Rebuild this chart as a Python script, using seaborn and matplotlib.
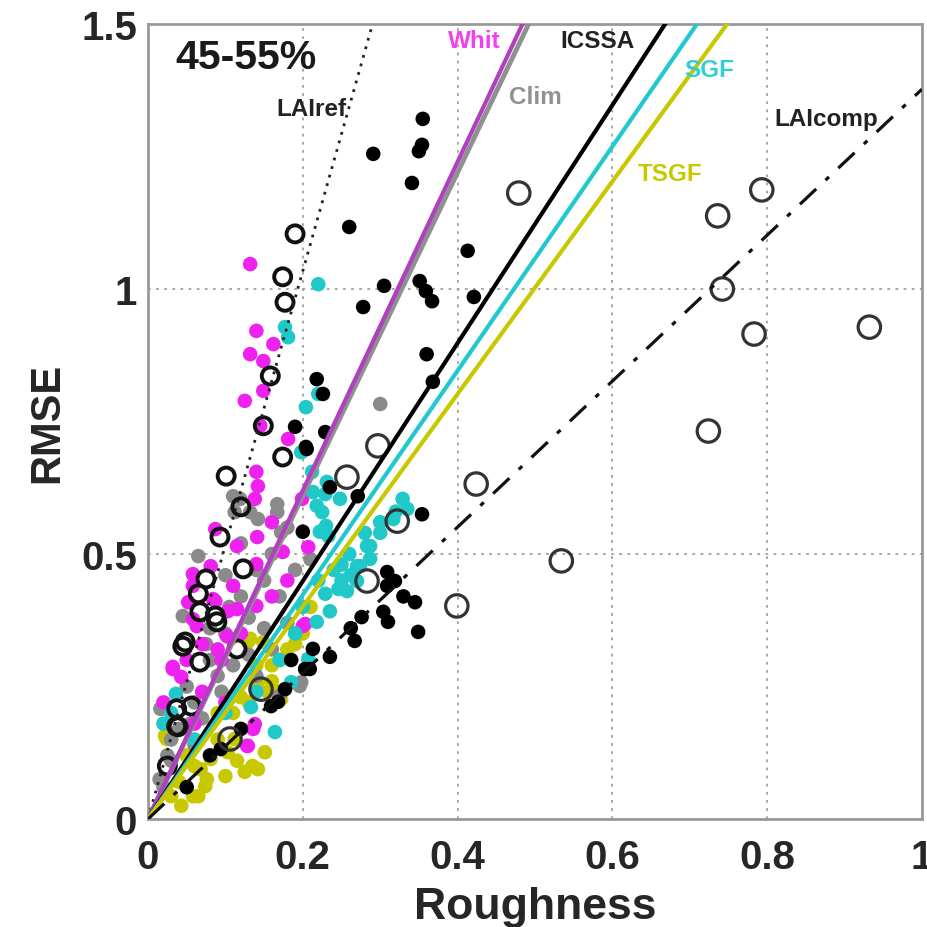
import matplotlib
matplotlib.use("Agg")
import matplotlib.pyplot as plt
import seaborn as sns
import numpy as np
import pandas as pd

# ---------------- data ----------------
icssa_x = [0.355, 0.354, 0.350, 0.291, 0.341, 0.260, 0.413, 0.305, 0.351, 0.359, 0.367, 0.421,
           0.360, 0.368, 0.278, 0.218, 0.190, 0.229, 0.205, 0.235, 0.271, 0.354, 0.200, 0.309,
           0.319, 0.345, 0.349, 0.309, 0.304, 0.310, 0.276, 0.267, 0.235, 0.209, 0.213, 0.159,
           0.094, 0.177, 0.168, 0.203, 0.226, 0.204, 0.050, 0.080, 0.120, 0.262, 0.330, 0.185]
icssa_y = [1.321, 1.272, 1.260, 1.255, 1.200, 1.117, 1.072, 1.006, 1.015, 0.996, 0.977, 0.985,
           0.877, 0.825, 0.966, 0.830, 0.740, 0.730, 0.698, 0.626, 0.609, 0.575, 0.542, 0.466,
           0.449, 0.409, 0.353, 0.440, 0.391, 0.372, 0.381, 0.336, 0.306, 0.283, 0.321, 0.213,
           0.132, 0.245, 0.221, 0.283, 0.802, 0.702, 0.060, 0.120, 0.170, 0.360, 0.420, 0.300]

whit_x = [0.132, 0.140, 0.162, 0.132, 0.149, 0.125, 0.149, 0.145, 0.181, 0.140, 0.142, 0.138,
          0.199, 0.087, 0.115, 0.141, 0.207, 0.174, 0.058, 0.058, 0.081, 0.140, 0.052, 0.087,
          0.103, 0.140, 0.058, 0.203, 0.032, 0.043, 0.129, 0.138, 0.084, 0.115, 0.063, 0.102,
          0.032, 0.200, 0.128, 0.136, 0.070, 0.095, 0.160, 0.020, 0.050, 0.070, 0.090, 0.110,
          0.120, 0.160, 0.180, 0.060, 0.100]
whit_y = [1.047, 0.921, 0.896, 0.877, 0.864, 0.789, 0.808, 0.742, 0.717, 0.655, 0.628, 0.604,
          0.604, 0.547, 0.515, 0.532, 0.513, 0.504, 0.462, 0.440, 0.477, 0.481, 0.409, 0.411,
          0.392, 0.402, 0.377, 0.368, 0.287, 0.268, 0.138, 0.179, 0.415, 0.396, 0.364, 0.345,
          0.283, 0.364, 0.138, 0.170, 0.330, 0.300, 0.560, 0.220, 0.300, 0.240, 0.320, 0.440,
          0.350, 0.420, 0.450, 0.180, 0.220]

clim_x = [0.300, 0.167, 0.119, 0.132, 0.142, 0.110, 0.065, 0.172, 0.112, 0.017, 0.198, 0.196,
          0.050, 0.080, 0.100, 0.120, 0.150, 0.030, 0.060, 0.090, 0.130, 0.160, 0.180, 0.045,
          0.016, 0.015, 0.170, 0.167, 0.075, 0.105, 0.140, 0.025, 0.055, 0.095, 0.040, 0.070,
          0.110, 0.130, 0.150, 0.170, 0.190, 0.210, 0.080, 0.100, 0.120, 0.030, 0.060, 0.020,
          0.140, 0.160, 0.180]
clim_y = [0.783, 0.594, 0.604, 0.579, 0.566, 0.609, 0.496, 0.541, 0.579, 0.208, 0.258, 0.251,
          0.250, 0.300, 0.350, 0.420, 0.450, 0.150, 0.220, 0.270, 0.380, 0.500, 0.550, 0.383,
          0.208, 0.075, 0.232, 0.579, 0.330, 0.400, 0.470, 0.120, 0.180, 0.240, 0.170, 0.190,
          0.290, 0.310, 0.360, 0.420, 0.470, 0.490, 0.360, 0.460, 0.520, 0.110, 0.140, 0.060,
          0.270, 0.320, 0.370]

sgf_x = [0.220, 0.177, 0.181, 0.220, 0.204, 0.198, 0.212, 0.231, 0.213, 0.225, 0.222, 0.248,
         0.329, 0.283, 0.270, 0.229, 0.218, 0.230, 0.233, 0.335, 0.317, 0.287, 0.287, 0.274,
         0.270, 0.257, 0.229, 0.246, 0.235, 0.218, 0.133, 0.164, 0.036, 0.207, 0.185, 0.250,
         0.300, 0.262, 0.060, 0.100, 0.240, 0.260, 0.280, 0.300, 0.250, 0.220, 0.200, 0.190,
         0.170, 0.320, 0.140, 0.030, 0.020]
sgf_y = [1.009, 0.928, 0.909, 0.802, 0.777, 0.692, 0.655, 0.636, 0.617, 0.579, 0.542, 0.604,
         0.604, 0.515, 0.477, 0.613, 0.591, 0.553, 0.534, 0.585, 0.566, 0.515, 0.491, 0.477,
         0.449, 0.430, 0.425, 0.434, 0.392, 0.372, 0.211, 0.164, 0.236, 0.302, 0.258, 0.480,
         0.540, 0.460, 0.150, 0.200, 0.470, 0.500, 0.540, 0.560, 0.450, 0.450, 0.400, 0.350,
         0.300, 0.580, 0.240, 0.200, 0.180]

tsgf_x = [0.151, 0.142, 0.125, 0.100, 0.074, 0.065, 0.043, 0.068, 0.081, 0.103, 0.112, 0.142,
          0.155, 0.172, 0.129, 0.107, 0.022, 0.030, 0.149, 0.076, 0.058, 0.024, 0.167, 0.132,
          0.180, 0.160, 0.200, 0.050, 0.090, 0.120, 0.060, 0.090, 0.110, 0.130, 0.140, 0.170,
          0.190, 0.210, 0.040, 0.115, 0.135, 0.160]
tsgf_y = [0.126, 0.094, 0.089, 0.081, 0.062, 0.043, 0.025, 0.094, 0.113, 0.126, 0.151, 0.258,
          0.240, 0.226, 0.334, 0.340, 0.157, 0.043, 0.334, 0.075, 0.043, 0.151, 0.240, 0.340,
          0.320, 0.290, 0.350, 0.120, 0.200, 0.230, 0.100, 0.150, 0.200, 0.220, 0.290, 0.300,
          0.330, 0.400, 0.070, 0.110, 0.100, 0.260]

laicomp_x = [0.479, 0.793, 0.736, 0.742, 0.783, 0.932, 0.724, 0.424, 0.534, 0.399, 0.297, 0.257,
             0.322, 0.283, 0.146, 0.106]
laicomp_y = [1.181, 1.187, 1.138, 1.000, 0.915, 0.928, 0.732, 0.632, 0.487, 0.402, 0.704, 0.645,
             0.562, 0.449, 0.245, 0.151]

lairef_x = [0.190, 0.174, 0.177, 0.158, 0.149, 0.174, 0.101, 0.120, 0.123, 0.093, 0.075, 0.065,
            0.087, 0.048, 0.067, 0.089, 0.045, 0.067, 0.037, 0.037, 0.115, 0.025, 0.056, 0.039]
lairef_y = [1.104, 1.023, 0.975, 0.836, 0.742, 0.683, 0.647, 0.589, 0.472, 0.532, 0.453, 0.425,
            0.383, 0.334, 0.391, 0.372, 0.326, 0.296, 0.208, 0.175, 0.321, 0.100, 0.213, 0.174]

line_names = ["LAIref", "Clim", "Whit", "ICSSA", "SGF", "TSGF", "LAIcomp"]
line_slopes = [5.17, 3.05, 3.10, 2.245, 2.115, 2.005, 1.377]

x_ticks = [0, 0.2, 0.4, 0.6, 0.8, 1]
x_tick_labels = ["0", "0.2", "0.4", "0.6", "0.8", "1"]
y_ticks = [0, 0.5, 1, 1.5]
y_tick_labels = ["0", "0.5", "1", "1.5"]

# ---------------- style ----------------
sns.set_style("white")
plt.rcParams["font.family"] = ["Liberation Sans", "DejaVu Sans"]
plt.rcParams["font.weight"] = "bold"

fig = plt.figure(figsize=(9.27, 9.28), dpi=100)
ax = fig.add_axes([148 / 927, 1 - 820 / 928, (922 - 148) / 927, (820 - 25) / 928])

ms = 110
series = [
    (tsgf_x, tsgf_y, "#c8c800"),
    (clim_x, clim_y, "#8a8a8a"),
    (whit_x, whit_y, "#ee22ee"),
    (sgf_x, sgf_y, "#20c8c8"),
    (icssa_x, icssa_y, "#000000"),
]
for xs, ys, c in series:
    sns.scatterplot(x=xs, y=ys, ax=ax, color=c, s=ms, edgecolor="none", linewidth=0, zorder=3)

sns.scatterplot(x=lairef_x, y=lairef_y, ax=ax, marker="o", s=150, facecolor="none",
                edgecolor="#111111", linewidth=2.8, zorder=4)
sns.scatterplot(x=laicomp_x, y=laicomp_y, ax=ax, marker="o", s=260, facecolor="none",
                edgecolor="#333333", linewidth=2.3, zorder=4)

line_styles = {
    "LAIref": dict(color="#222222", lw=2.0, ls=(0, (1, 2.2))),
    "Clim": dict(color="#909090", lw=3.5, ls="-"),
    "Whit": dict(color="#b040c0", lw=3.0, ls="-"),
    "ICSSA": dict(color="#000000", lw=3.0, ls="-"),
    "SGF": dict(color="#20c8d0", lw=3.0, ls="-"),
    "TSGF": dict(color="#c8c800", lw=3.0, ls="-"),
    "LAIcomp": dict(color="#111111", lw=2.3, ls=(0, (7, 4, 1.5, 4))),
}
xline = np.array([0.0, 1.0])
for name, slope in zip(line_names, line_slopes):
    st = line_styles[name]
    df = pd.DataFrame({"x": xline, "y": slope * xline})
    sns.lineplot(data=df, x="x", y="y", ax=ax, color=st["color"], linewidth=st["lw"],
                 linestyle=st["ls"], zorder=5)

# labels
ax.text(0.035, 1.437, "45-55%", fontsize=29.5, fontweight="bold", color="#1a1a1a",
        ha="left", va="center", zorder=6)
lbl = [
    ("LAIref", 0.211, 1.340, "#222222"),
    ("Whit", 0.421, 1.468, "#f040f0"),
    ("Clim", 0.501, 1.364, "#909090"),
    ("ICSSA", 0.581, 1.468, "#222222"),
    ("SGF", 0.725, 1.415, "#30d0d0"),
    ("TSGF", 0.674, 1.217, "#c8c800"),
    ("LAIcomp", 0.876, 1.321, "#222222"),
]
for t, x, y, c in lbl:
    ax.text(x, y, t, fontsize=17.5, fontweight="bold", color=c, ha="center", va="center",
            zorder=6)

ax.set_xlim(0, 1)
ax.set_ylim(0, 1.5)
ax.set_xticks(x_ticks)
ax.set_xticklabels(x_tick_labels)
ax.set_yticks(y_ticks)
ax.set_yticklabels(y_tick_labels)
ax.tick_params(axis="both", labelsize=29, direction="in", length=5, width=1.2,
               color="#888888")
ax.tick_params(axis="x", pad=14)
ax.tick_params(axis="y", pad=8)
for lab in ax.get_xticklabels() + ax.get_yticklabels():
    lab.set_fontweight("bold")
ax.set_xlabel("Roughness", fontsize=32, fontweight="bold", labelpad=7)
ax.set_ylabel("RMSE", fontsize=30, fontweight="bold", labelpad=10)
ax.grid(True, linestyle=(0, (1.5, 3)), color="#a0a0a0", linewidth=1.3)
ax.set_axisbelow(True)
for sp in ax.spines.values():
    sp.set_color("#999999")
    sp.set_linewidth(2.0)
    sp.set_visible(True)

fig.savefig("out.png", dpi=100, facecolor="white")
